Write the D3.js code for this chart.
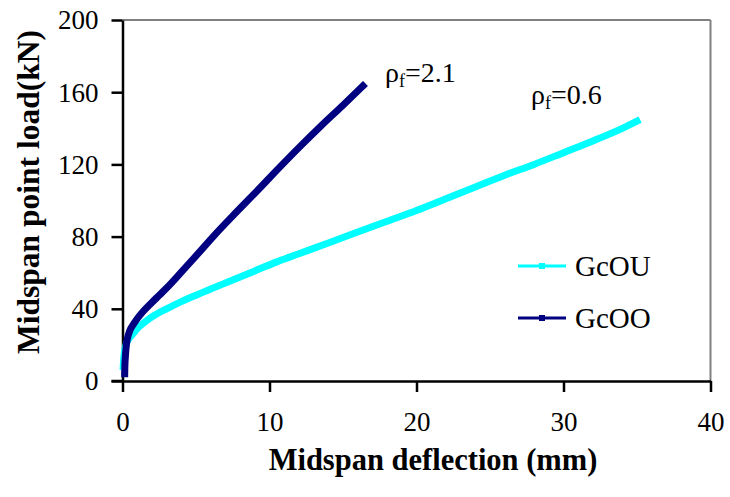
<!DOCTYPE html>
<html>
<head>
<meta charset="utf-8">
<script src="https://cdn.jsdelivr.net/npm/d3@7/dist/d3.min.js"></script>
<style>
  html, body { margin: 0; padding: 0; background: #fff; }
</style>
</head>
<body>
<script>
// ---- data ----
const xTicks = [0, 10, 20, 30, 40];
const yTicks = [0, 40, 80, 120, 160, 200];

const gcouX = [0.05, 0.1, 0.2, 0.4, 0.7, 1.0, 1.5, 2, 3, 4, 5, 6, 7.5, 9, 10.5, 12, 14, 16, 18, 20, 22, 24, 26, 28, 30, 32, 34, 35];
const gcouY = [8, 14, 19, 23, 26, 29, 32.5, 35.5, 40, 44, 47.5, 51, 56, 61, 66, 70.5, 76.5, 82.5, 88.5, 94.5, 101, 107.5, 114, 120, 126.5, 133, 140, 144];

const gcooX = [0.15, 0.16, 0.2, 0.25, 0.35, 0.5, 0.75, 1.0, 1.4, 2, 2.5, 3, 4, 5, 6.2, 7.5, 9, 10.5, 12, 13.5, 15, 16.36];
const gcooY = [4, 8, 14, 19, 24, 28, 31.5, 34.5, 38.5, 43.5, 47.5, 51.5, 60.3, 69.3, 80.3, 91.5, 104, 116.8, 129.3, 141.3, 152.8, 163.5];

const seriesNames = ["GcOU", "GcOO"];
const seriesColors = ["#00FFFF", "#000080"];

const FONT = "'Liberation Serif', 'Times New Roman', Times, serif";

const W = 730, H = 497;
const m = { left: 122.5, right: 19.5, top: 20, bottom: 116 };

const svg = d3.select("body").append("svg").attr("width", W).attr("height", H)
  .style("font-family", FONT);

const x = d3.scaleLinear().domain([0, 40]).range([m.left, W - m.right]);
const y = d3.scaleLinear().domain([0, 200]).range([H - m.bottom, m.top]);

// grey top/right border
svg.append("line").attr("x1", x(0)).attr("x2", x(40)).attr("y1", y(200)).attr("y2", y(200))
  .attr("stroke", "#808080").attr("stroke-width", 2);
svg.append("line").attr("x1", x(40)).attr("x2", x(40)).attr("y1", y(200)).attr("y2", y(0))
  .attr("stroke", "#808080").attr("stroke-width", 2);

// axes
const xAxis = svg.append("g").attr("transform", `translate(0,${y(0)})`)
  .call(d3.axisBottom(x).tickValues(xTicks).tickSize(11).tickPadding(20).tickSizeOuter(0));
const yAxis = svg.append("g").attr("transform", `translate(${x(0)},0)`)
  .call(d3.axisLeft(y).tickValues(yTicks).tickSize(11).tickPadding(13).tickSizeOuter(0));
[xAxis, yAxis].forEach(g => {
  g.attr("font-family", null).attr("font-size", null);
  g.select(".domain").attr("stroke", "#000").attr("stroke-width", 2.5);
  g.selectAll(".tick line").attr("stroke", "#000").attr("stroke-width", 2.5);
  g.selectAll(".tick text").style("font-family", FONT)
    .style("font-size", "27px").attr("fill", "#000");
});
yAxis.selectAll(".tick text").attr("dy", "0.33em");
xAxis.selectAll(".tick text").attr("dy", "0.71em");
svg.append("line").attr("x1", x(0) - 11).attr("x2", x(0)).attr("y1", y(0)).attr("y2", y(0))
  .attr("stroke", "#000").attr("stroke-width", 2.5);

// lines
const line = d3.line().x(d => x(d[0])).y(d => y(d[1])).curve(d3.curveMonotoneX);
const gcou = gcouX.map((v, i) => [v, gcouY[i]]);
const gcoo = gcooX.map((v, i) => [v, gcooY[i]]);

svg.append("path").datum(gcou).attr("d", line).attr("fill", "none")
  .attr("stroke", seriesColors[0]).attr("stroke-width", 7).attr("stroke-linecap", "square");
svg.append("path").datum(gcoo).attr("d", line).attr("fill", "none")
  .attr("stroke", seriesColors[1]).attr("stroke-width", 7).attr("stroke-linecap", "square");

// legend
const legY = [266, 318];
seriesNames.forEach((n, i) => {
  svg.append("line").attr("x1", 518).attr("x2", 566).attr("y1", legY[i]).attr("y2", legY[i])
    .attr("stroke", seriesColors[i]).attr("stroke-width", 3);
  svg.append("rect").attr("x", 539).attr("y", legY[i] - 3).attr("width", 6).attr("height", 6)
    .attr("fill", seriesColors[i]);
  svg.append("text").attr("x", 575).attr("y", legY[i] + 10).style("font-size", "29px")
    .style("font-family", FONT).attr("fill", "#000").text(n);
});

// annotations
function rho(xp, yp, val) {
  const t = svg.append("text").attr("x", xp).attr("y", yp).style("font-size", "28px")
    .style("font-family", FONT).attr("fill", "#000");
  t.append("tspan").text("ρ");
  t.append("tspan").style("font-size", "18px").attr("dy", 5).text("f");
  t.append("tspan").attr("dy", -5).text("=" + val);
}
rho(385, 82, "2.1");
rho(531, 104, "0.6");

// axis titles
svg.append("text").attr("x", 433).attr("y", 470)
  .attr("text-anchor", "middle").style("font-weight", "bold").style("font-size", "30.5px")
  .style("font-family", FONT).attr("fill", "#000").text("Midspan deflection (mm)");
svg.append("text").attr("transform", `translate(39,192) rotate(-90)`)
  .attr("text-anchor", "middle").style("font-weight", "bold").style("font-size", "31.5px")
  .style("font-family", FONT).attr("fill", "#000").text("Midspan point load(kN)");
</script>
</body>
</html>
